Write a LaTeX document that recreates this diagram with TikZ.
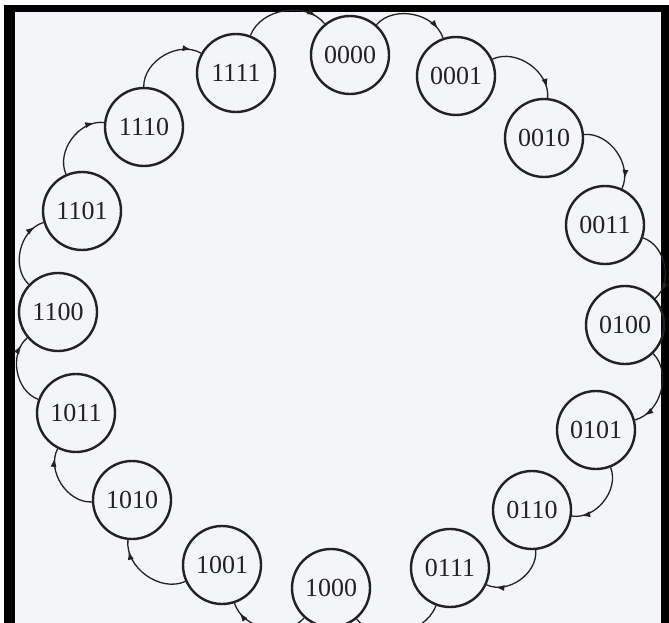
\documentclass[tikz,border=0pt]{standalone}
\usepackage{fontspec}
\setmainfont{Liberation Serif}
\usetikzlibrary{arrows.meta,decorations.markings}
\definecolor{ink}{HTML}{222222}
\definecolor{paper}{HTML}{F4F5F9}
\begin{document}
\begin{tikzpicture}[x=1pt,y=1pt,
  state/.style={circle,draw=ink,line width=2.4pt,minimum size=78pt,inner sep=0pt,
    font=\fontsize{26}{26}\selectfont,text=ink},
  arr/.style={draw=ink,line width=1.3pt,postaction={decorate},
    decoration={markings,mark=at position 0.87 with {\arrow{Latex[length=9pt,width=6pt]}}}}]
\useasboundingbox (0,0) rectangle (669,-623);
% paper and frame
\fill[white] (0,0) rectangle (669,-623);
\fill[paper] (12,-10) rectangle (662,-623);
\fill[black] (4,-5) rectangle (669,-12);
\fill[black] (4,-5) rectangle (15,-623);
\fill[black] (661,-5) rectangle (669,-623);
% states
\node[state] (s0)  at (350,-55)  {0000};
\node[state] (s1)  at (456,-76)  {0001};
\node[state] (s2)  at (544,-138) {0010};
\node[state] (s3)  at (605,-225) {0011};
\node[state] (s4)  at (625,-325) {0100};
\node[state] (s5)  at (596,-430) {0101};
\node[state] (s6)  at (532,-510) {0110};
\node[state] (s7)  at (450,-568) {0111};
\node[state] (s8)  at (331,-588) {1000};
\node[state] (s9)  at (222,-565) {1001};
\node[state] (s10) at (132,-500) {1010};
\node[state] (s11) at (76,-413)  {1011};
\node[state] (s12) at (58,-312)  {1100};
\node[state] (s13) at (82,-211)  {1101};
\node[state] (s14) at (144,-127) {1110};
\node[state] (s15) at (236,-73)  {1111};
% transitions
\foreach \a/\b in {s0/s1,s1/s2,s2/s3,s3/s4,s4/s5,s5/s6,s6/s7,s7/s8,s8/s9,s9/s10,s10/s11,s11/s12,s12/s13,s13/s14,s14/s15,s15/s0}
  \draw[arr] (\a) to[bend left=60] (\b);
\end{tikzpicture}
\end{document}
